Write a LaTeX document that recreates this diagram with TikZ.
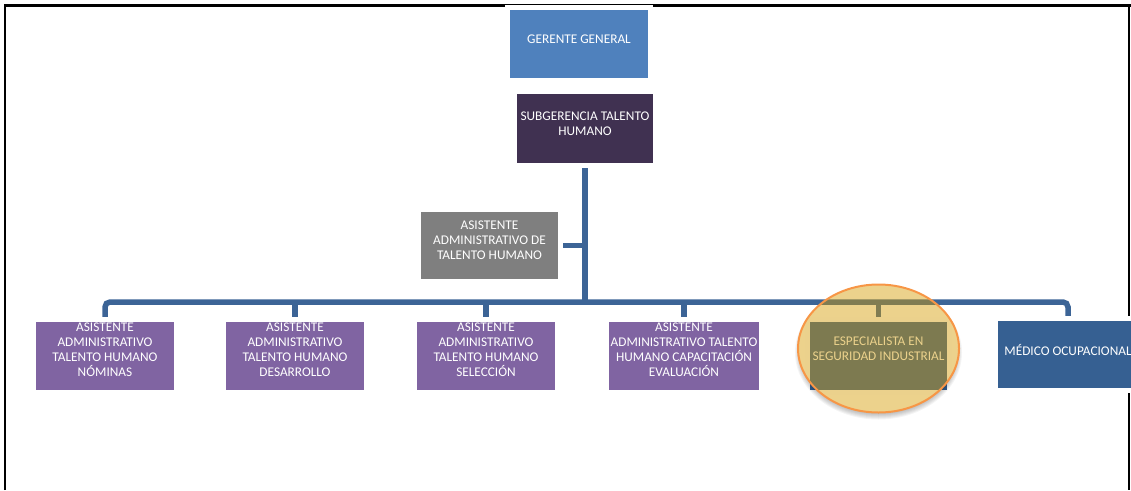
\documentclass[tikz,border=0pt]{standalone}
\usepackage{fontspec}
\setmainfont{Carlito}
\usetikzlibrary{shapes.geometric,backgrounds}

\definecolor{cGerente}{RGB}{79,129,189}
\definecolor{cSub}{RGB}{64,49,81}
\definecolor{cGris}{RGB}{127,127,127}
\definecolor{cMorado}{RGB}{128,100,162}
\definecolor{cAzul}{RGB}{54,96,146}
\definecolor{cLinea}{RGB}{60,100,150}
\definecolor{cResalte}{RGB}{212,155,0}
\definecolor{cBorde}{RGB}{247,150,70}

\tikzset{
  box/.style={rectangle, inner sep=0pt, minimum width=138pt, minimum height=68pt,
    fill=#1, preaction={draw=white, line width=10pt}},
  lbl/.style={text=white, font=\fontsize{13.3}{15}\selectfont, align=center, inner sep=0pt},
  conn/.style={draw=cLinea, line width=5.5pt},
  frame/.style={draw=black, line width=2.5pt},
}

\begin{document}
\begin{tikzpicture}[x=1pt, y=-1pt]
\useasboundingbox (0,0) rectangle (1131,490);

% page frame
\draw[frame] (5,490) -- (5,5.5) -- (1131,5.5);
\draw[frame] (1129,5.5) -- (1129,490);

% top levels
\node[box=cGerente, label={[lbl, yshift=4.5pt]center:GERENTE GENERAL}] (ger) at (579,43.5) {};
\node[box=cSub, minimum width=136pt, minimum height=69pt,
      label={[lbl, yshift=4.5pt]center:{SUBGERENCIA TALENTO\\HUMANO}}] (sub) at (585,128.5) {};
\node[box=cGris, minimum width=137pt, minimum height=67pt,
      label={[lbl, yshift=5pt]center:{ASISTENTE\\ADMINISTRATIVO DE\\TALENTO HUMANO}}] (gray) at (489.5,245.5) {};

% bottom row
\node[box=cMorado, label={[lbl, yshift=6pt]center:{ASISTENTE\\ADMINISTRATIVO\\TALENTO HUMANO\\NÓMINAS}}] (b1) at (105,356) {};
\node[box=cMorado, label={[lbl, yshift=6pt]center:{ASISTENTE\\ADMINISTRATIVO\\TALENTO HUMANO\\DESARROLLO}}] (b2) at (295,356) {};
\node[box=cMorado, label={[lbl, yshift=6pt]center:{ASISTENTE\\ADMINISTRATIVO\\TALENTO HUMANO\\SELECCIÓN}}] (b3) at (486,356) {};
\node[box=cMorado, minimum width=150pt,
      label={[lbl, yshift=6pt]center:{ASISTENTE\\ADMINISTRATIVO TALENTO\\HUMANO CAPACITACIÓN\\EVALUACIÓN}}] (b4) at (684,356) {};
\node[box=cAzul, minimum width=137pt,
      label={[lbl, yshift=7pt]center:{ESPECIALISTA EN\\SEGURIDAD INDUSTRIAL}}] (spec) at (878.5,356) {};
\node[box=cAzul, minimum width=140pt, minimum height=67pt,
      label={[lbl, yshift=5pt]center:MÉDICO OCUPACIONAL}] (med) at (1068,354.5) {};

% connectors
\begin{pgfonlayer}{background}
  \coordinate (busR) at (1068,302);
  \draw[conn, rounded corners=5pt] (b1.north) |- (busR) -- (med.north);
  \foreach \b in {b2,b3,b4,spec}
    \draw[conn] (\b.north) -- (\b.north |- busR);
  \draw[conn, line width=6pt] (sub.south) -- (sub.south |- busR);
  \draw[conn] (gray.east) -- (gray.east -| sub.south);
\end{pgfonlayer}

% highlight around the safety specialist, with a soft shadow below it
\coordinate (hlc) at ([yshift=7.5pt]spec.center);
\begin{scope}[even odd rule]
  \clip (0,0) rectangle (1131,490)
    (hlc) ellipse [x radius=80.5pt, y radius=64pt];
  \foreach \k in {0,...,6}
    \fill[black, opacity=0.045] ([yshift=-4pt]hlc)
      ellipse [x radius={83.5-\k}, y radius={67-\k}];
\end{scope}
\node[ellipse, inner sep=0pt, minimum width=161pt, minimum height=128pt,
      fill=cResalte, fill opacity=0.45, draw=cBorde, draw opacity=1, line width=2pt] (hl) at (hlc) {};
\end{tikzpicture}
\end{document}
